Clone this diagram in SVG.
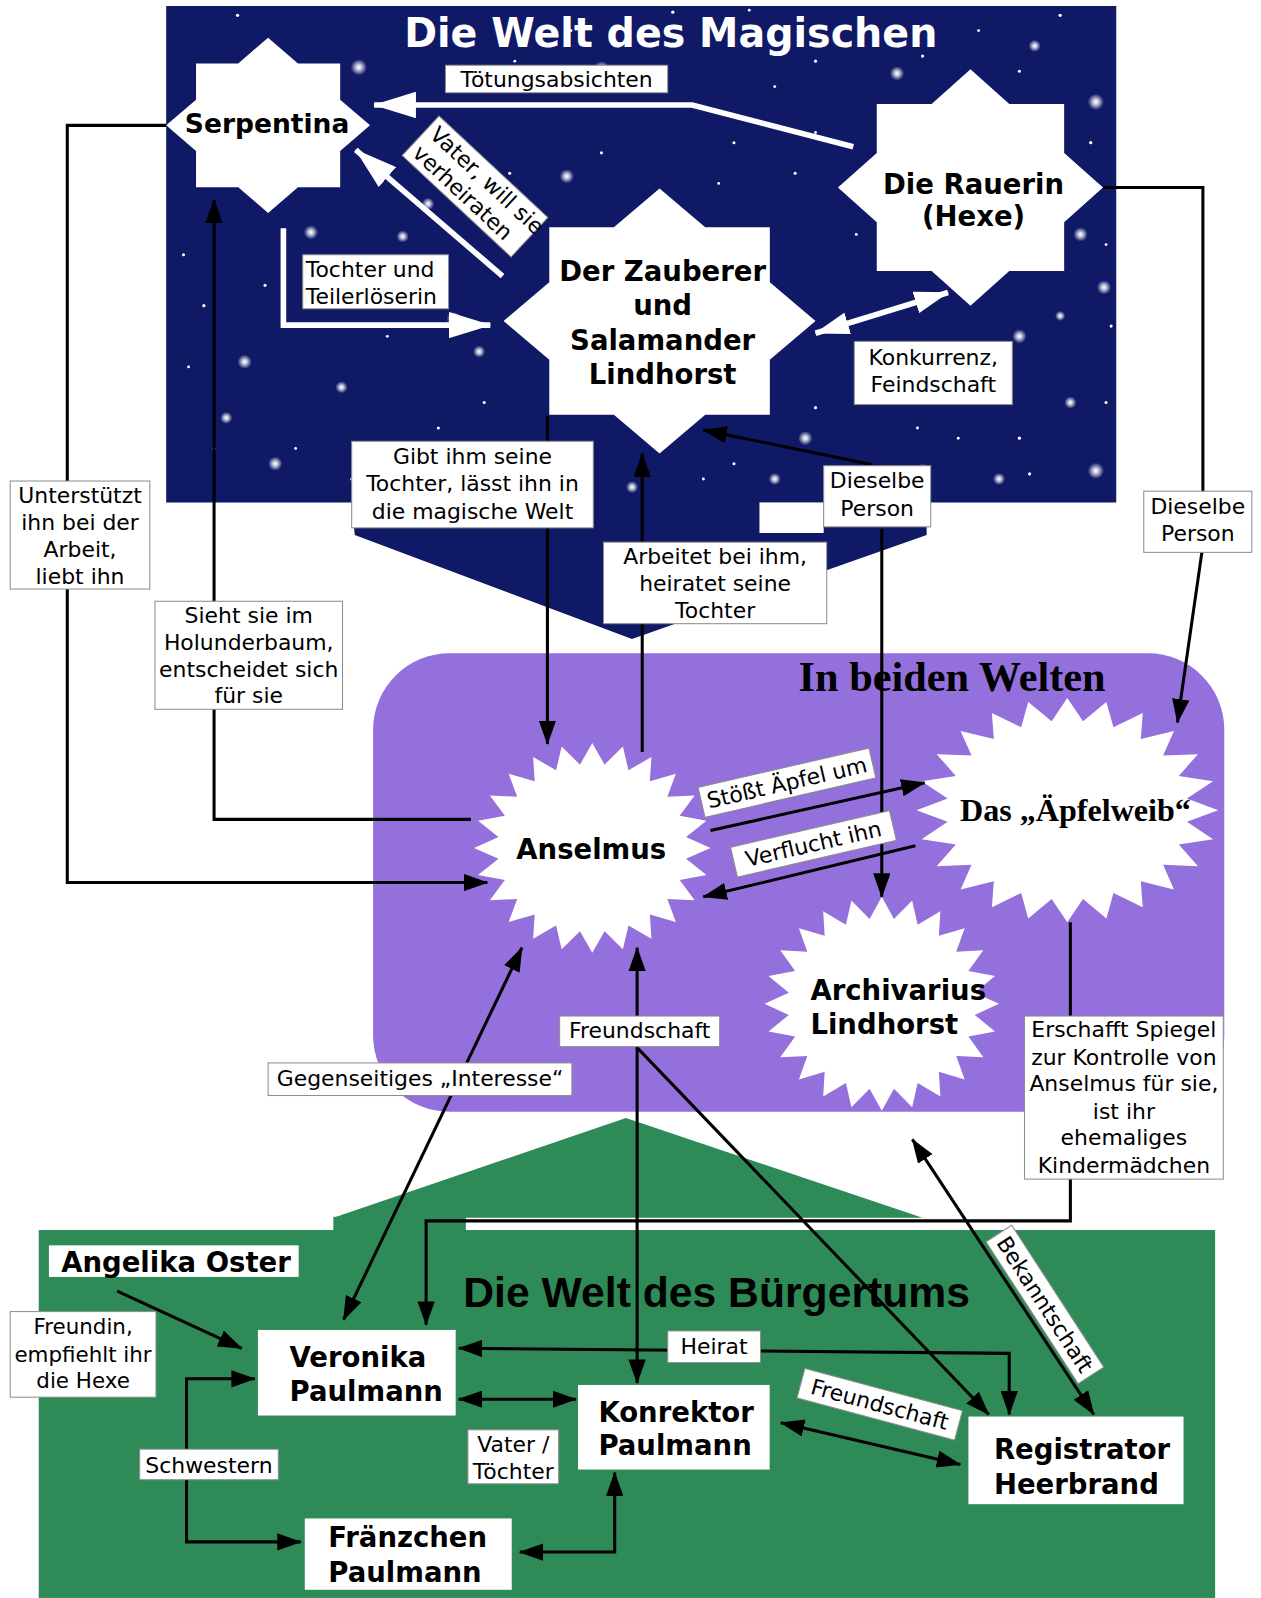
<svg xmlns="http://www.w3.org/2000/svg" width="1261" height="1598" viewBox="0 0 1261 1598">
<defs>
<style>
.lbl{font-family:"DejaVu Sans",sans-serif;font-size:21.5px;fill:#000}
.nd{font-family:"DejaVu Sans",sans-serif;font-weight:bold;font-size:27px;fill:#000}
.box{fill:#fff;stroke:#8c8c8c;stroke-width:1}
.nbox{fill:#fff}
.ln{fill:none;stroke:#000;stroke-width:3}
.wl{fill:none;stroke:#fff;stroke-width:5.5}
.c{text-anchor:middle}
.sd{fill:#fff}
</style>
<radialGradient id="glow">
<stop offset="0" stop-color="#fff" stop-opacity="1"/>
<stop offset="0.3" stop-color="#fff" stop-opacity="0.8"/>
<stop offset="1" stop-color="#fff" stop-opacity="0"/>
</radialGradient>
<polygon id="s8" points="100,0 70.7,29.3 70.7,70.7 29.3,70.7 0,100 -29.3,70.7 -70.7,70.7 -70.7,29.3 -100,0 -70.7,-29.3 -70.7,-70.7 -29.3,-70.7 0,-100 29.3,-70.7 70.7,-70.7 70.7,-29.3"/>
<polygon id="s24" points="100,0 79.3,10.4 96.6,25.9 73.9,30.6 86.6,50 63.5,48.7 70.7,70.7 48.7,63.5 50,86.6 30.6,73.9 25.9,96.6 10.4,79.3 0,100 -10.4,79.3 -25.9,96.6 -30.6,73.9 -50,86.6 -48.7,63.5 -70.7,70.7 -63.5,48.7 -86.6,50 -73.9,30.6 -96.6,25.9 -79.3,10.4 -100,0 -79.3,-10.4 -96.6,-25.9 -73.9,-30.6 -86.6,-50 -63.5,-48.7 -70.7,-70.7 -48.7,-63.5 -50,-86.6 -30.6,-73.9 -25.9,-96.6 -10.4,-79.3 0,-100 10.4,-79.3 25.9,-96.6 30.6,-73.9 50,-86.6 48.7,-63.5 70.7,-70.7 63.5,-48.7 86.6,-50 73.9,-30.6 96.6,-25.9 79.3,-10.4"/>
<marker id="ab" markerUnits="userSpaceOnUse" markerWidth="24" markerHeight="17" refX="23" refY="8.5" orient="auto-start-reverse" viewBox="0 0 24 17"><path d="M0,0 L24,8.5 L0,17 z" fill="#000"/></marker>
<marker id="aw" markerUnits="userSpaceOnUse" markerWidth="42" markerHeight="26" refX="41" refY="13" orient="auto-start-reverse" viewBox="0 0 42 26"><path d="M0,0 L42,13 L0,26 z" fill="#fff"/></marker>
<marker id="aws" markerUnits="userSpaceOnUse" markerWidth="34" markerHeight="22" refX="33" refY="11" orient="auto-start-reverse" viewBox="0 0 34 22"><path d="M0,0 L34,11 L0,22 z" fill="#fff"/></marker>
</defs>
<rect width="1261" height="1598" fill="#fff"/>
<g transform="scale(1.0194,1.0191)">
<g id="backgrounds">
<path d="M163,6 H1095 V493 H909 V525 L620,627 L348,525 L345,493 H163 Z" fill="#0f1966"/>
<rect x="745" y="493" width="63" height="30" fill="#fff"/>
<g id="starfield">
<circle cx="352" cy="66" r="8" fill="url(#glow)"/><circle cx="590" cy="68" r="8" fill="url(#glow)"/>
<circle cx="880" cy="72" r="7" fill="url(#glow)"/><circle cx="937" cy="100" r="7" fill="url(#glow)"/>
<circle cx="1075" cy="100" r="8" fill="url(#glow)"/><circle cx="1015" cy="45" r="6" fill="url(#glow)"/>
<circle cx="556" cy="173" r="7" fill="url(#glow)"/><circle cx="445" cy="313" r="7" fill="url(#glow)"/>
<circle cx="395" cy="232" r="6" fill="url(#glow)"/><circle cx="470" cy="345" r="6" fill="url(#glow)"/>
<circle cx="240" cy="355" r="7" fill="url(#glow)"/><circle cx="222" cy="410" r="6" fill="url(#glow)"/>
<circle cx="270" cy="455" r="7" fill="url(#glow)"/><circle cx="335" cy="380" r="6" fill="url(#glow)"/>
<circle cx="790" cy="430" r="7" fill="url(#glow)"/><circle cx="1000" cy="330" r="7" fill="url(#glow)"/>
<circle cx="1050" cy="395" r="6" fill="url(#glow)"/><circle cx="1075" cy="462" r="8" fill="url(#glow)"/>
<circle cx="1060" cy="230" r="7" fill="url(#glow)"/><circle cx="1083" cy="282" r="7" fill="url(#glow)"/>
<circle cx="475" cy="448" r="6" fill="url(#glow)"/><circle cx="620" cy="478" r="6" fill="url(#glow)"/>
<circle cx="905" cy="462" r="7" fill="url(#glow)"/><circle cx="760" cy="470" r="6" fill="url(#glow)"/>
<circle cx="305" cy="228" r="7" fill="url(#glow)"/><circle cx="420" cy="200" r="6" fill="url(#glow)"/>
<circle cx="980" cy="470" r="6" fill="url(#glow)"/><circle cx="1040" cy="310" r="5" fill="url(#glow)"/>
<circle cx="233" cy="15" r="1.6" class="sd"/><circle cx="420" cy="35" r="1.6" class="sd"/>
<circle cx="505" cy="60" r="1.4" class="sd"/><circle cx="660" cy="12" r="1.6" class="sd"/>
<circle cx="735" cy="10" r="1.4" class="sd"/><circle cx="1040" cy="15" r="1.6" class="sd"/>
<circle cx="800" cy="60" r="1.5" class="sd"/><circle cx="860" cy="35" r="1.4" class="sd"/>
<circle cx="1000" cy="70" r="1.5" class="sd"/><circle cx="1070" cy="140" r="1.6" class="sd"/>
<circle cx="1085" cy="240" r="1.4" class="sd"/><circle cx="1090" cy="320" r="1.5" class="sd"/>
<circle cx="1000" cy="430" r="1.6" class="sd"/><circle cx="940" cy="430" r="1.4" class="sd"/>
<circle cx="1010" cy="465" r="1.5" class="sd"/><circle cx="900" cy="420" r="1.4" class="sd"/>
<circle cx="720" cy="455" r="1.5" class="sd"/><circle cx="800" cy="400" r="1.5" class="sd"/>
<circle cx="690" cy="470" r="1.4" class="sd"/><circle cx="410" cy="300" r="1.5" class="sd"/>
<circle cx="380" cy="330" r="1.4" class="sd"/><circle cx="430" cy="420" r="1.5" class="sd"/>
<circle cx="200" cy="300" r="1.6" class="sd"/><circle cx="185" cy="360" r="1.4" class="sd"/>
<circle cx="210" cy="440" r="1.5" class="sd"/><circle cx="260" cy="280" r="1.5" class="sd"/>
<circle cx="290" cy="440" r="1.4" class="sd"/><circle cx="475" cy="395" r="1.5" class="sd"/>
<circle cx="780" cy="170" r="1.5" class="sd"/><circle cx="800" cy="130" r="1.4" class="sd"/>
<circle cx="720" cy="140" r="1.5" class="sd"/><circle cx="705" cy="180" r="1.4" class="sd"/>
<circle cx="500" cy="170" r="1.5" class="sd"/><circle cx="520" cy="230" r="1.4" class="sd"/>
<circle cx="590" cy="150" r="1.5" class="sd"/><circle cx="1060" cy="175" r="1.4" class="sd"/>
<circle cx="1085" cy="395" r="1.5" class="sd"/><circle cx="760" cy="85" r="1.4" class="sd"/>
<circle cx="560" cy="30" r="1.5" class="sd"/><circle cx="180" cy="250" r="1.5" class="sd"/>
<circle cx="905" cy="55" r="1.6" class="sd"/><circle cx="960" cy="30" r="1.4" class="sd"/>
<circle cx="840" cy="230" r="1.4" class="sd"/><circle cx="345" cy="470" r="1.5" class="sd"/>
</g>
<rect x="366" y="641" width="835" height="450" rx="75" fill="#9370db"/>
<path d="M327,1195 L614,1097 L905,1195 Z" fill="#2e8b57"/>
<rect x="327" y="1194" width="130" height="14" fill="#2e8b57"/>
<rect x="38" y="1207" width="1154" height="361" fill="#2e8b57"/>
</g>
<g id="titles">
<text x="658" y="46" font-family="DejaVu Sans, sans-serif" font-weight="bold" font-size="40" fill="#fff" text-anchor="middle" textLength="523" lengthAdjust="spacingAndGlyphs">Die Welt des Magischen</text>
<text x="934" y="678" font-family="Liberation Serif, serif" font-weight="bold" font-size="41.5" fill="#000" text-anchor="middle">In beiden Welten</text>
<text x="703" y="1283" font-family="Liberation Sans, sans-serif" font-weight="bold" font-size="42" fill="#000" text-anchor="middle" textLength="497" lengthAdjust="spacingAndGlyphs">Die Welt des Bürgertums</text>
</g>
<g id="node-serpentina">
<use href="#s8" transform="translate(263,123) scale(1.0,0.86)" fill="#fff"/>
<text class="nd c" x="262" y="131" style="font-size:26px">Serpentina</text>
</g>
<g id="node-rauerin">
<use href="#s8" transform="translate(952,184) scale(1.30,1.16)" fill="#fff"/>
<text class="nd c" x="955" y="190">Die Rauerin</text>
<text class="nd c" x="955" y="222">(Hexe)</text>
</g>
<g id="node-zauberer">
<use href="#s8" transform="translate(647,315) scale(1.53,1.30)" fill="#fff"/>
<text class="nd c" x="650" y="276">Der Zauberer</text>
<text class="nd c" x="650" y="309">und</text>
<text class="nd c" x="650" y="343">Salamander</text>
<text class="nd c" x="650" y="377">Lindhorst</text>
</g>
<g id="node-anselmus">
<use href="#s24" transform="translate(581,832) scale(1.16,1.03)" fill="#fff"/>
<text class="nd c" x="580" y="843">Anselmus</text>
</g>
<g id="node-aepfelweib">
<use href="#s24" transform="translate(1047,795) scale(1.48,1.10)" fill="#fff"/>
<text x="1055" y="806" font-family="Liberation Serif, serif" font-weight="bold" font-size="31.5" text-anchor="middle">Das „Äpfelweib“</text>
</g>
<g id="node-archivarius">
<use href="#s24" transform="translate(865,985) scale(1.15,1.05)" fill="#fff"/>
<text class="nd" x="795" y="981">Archivarius</text>
<text class="nd" x="795" y="1015">Lindhorst</text>
</g>
<g id="node-angelika">
<rect class="nbox" x="48" y="1222" width="245" height="31"/>
<text class="nd" x="60" y="1248">Angelika Oster</text>
</g>
<g id="node-veronika">
<rect class="nbox" x="253" y="1305" width="194" height="84"/>
<text class="nd" x="284" y="1341">Veronika</text>
<text class="nd" x="284" y="1375">Paulmann</text>
</g>
<g id="node-konrektor">
<rect class="nbox" x="567" y="1359" width="188" height="83"/>
<text class="nd" x="587" y="1395">Konrektor</text>
<text class="nd" x="587" y="1428">Paulmann</text>
</g>
<g id="node-registrator">
<rect class="nbox" x="950" y="1390" width="211" height="86"/>
<text class="nd" x="975" y="1432">Registrator</text>
<text class="nd" x="975" y="1466">Heerbrand</text>
</g>
<g id="node-fraenzchen">
<rect class="nbox" x="299" y="1490" width="203" height="70"/>
<text class="nd" x="322" y="1518">Fränzchen</text>
<text class="nd" x="322" y="1552">Paulmann</text>
</g>
<g id="connectors">
<path class="wl" d="M837,144 L679,103 L367,103" marker-end="url(#aw)"/>
<path class="wl" d="M493,271 L349,147" marker-end="url(#aw)"/>
<path class="wl" d="M278,224 V319 H481" marker-end="url(#aw)"/>
<path class="wl" d="M800,327 L930,287" marker-start="url(#aws)" marker-end="url(#aws)"/>
<path class="ln" d="M163,123 H66 V866 H478" marker-end="url(#ab)"/>
<path class="ln" d="M462,804 H210 V196" marker-end="url(#ab)"/>
<path class="ln" d="M537,408 V730" marker-end="url(#ab)"/>
<path class="ln" d="M630,738 V445" marker-end="url(#ab)"/>
<path class="ln" d="M856,456 L690,422" marker-end="url(#ab)"/>
<path class="ln" d="M865,519 V880" marker-end="url(#ab)"/>
<path class="ln" d="M1082,184 H1180 V482"/>
<path class="ln" d="M1179,542 L1155,709" marker-end="url(#ab)"/>
<path class="ln" d="M697,815 L907,768" marker-end="url(#ab)"/>
<path class="ln" d="M898,830 L690,880" marker-end="url(#ab)"/>
<path class="ln" d="M1050,905 V997"/>
<path class="ln" d="M1050,1157 V1198 H418 V1300" marker-end="url(#ab)"/>
<path class="ln" d="M625,1357 V930" marker-start="url(#ab)" marker-end="url(#ab)"/>
<path class="ln" d="M625,1028 L970,1388" marker-end="url(#ab)"/>
<path class="ln" d="M512,930 L337,1295" marker-start="url(#ab)" marker-end="url(#ab)"/>
<path class="ln" d="M895,1118 L1073,1388" marker-start="url(#ab)" marker-end="url(#ab)"/>
<path class="ln" d="M115,1267 L237,1323" marker-end="url(#ab)"/>
<path class="ln" d="M450,1323 L990,1328 V1388" marker-start="url(#ab)" marker-end="url(#ab)"/>
<path class="ln" d="M450,1373 H565" marker-start="url(#ab)" marker-end="url(#ab)"/>
<path class="ln" d="M250,1353 H183 V1513 H295" marker-start="url(#ab)" marker-end="url(#ab)"/>
<path class="ln" d="M510,1523 H603 V1445" marker-start="url(#ab)" marker-end="url(#ab)"/>
<path class="ln" d="M766,1396 L942,1437" marker-start="url(#ab)" marker-end="url(#ab)"/>
</g>
<g id="edge-labels">
<rect class="box" x="437" y="64" width="218" height="27"/>
<text class="lbl c" x="546" y="85">Tötungsabsichten</text>
<g transform="translate(466,183) rotate(43)">
<rect class="box" x="-73" y="-26.5" width="146" height="53"/>
<text class="lbl" x="-67" y="-5">Vater, will sie</text>
<text class="lbl" x="-67" y="20">verheiraten</text>
</g>
<rect class="box" x="297" y="250" width="143" height="53"/>
<text class="lbl" x="300" y="272">Tochter und</text>
<text class="lbl" x="300" y="298">Teilerlöserin</text>
<rect class="box" x="838" y="335" width="155" height="62"/>
<text class="lbl c" x="915.5" y="358">Konkurrenz,</text>
<text class="lbl c" x="915.5" y="385">Feindschaft</text>
<rect class="box" x="808" y="457" width="105" height="60"/>
<text class="lbl c" x="860.5" y="479">Dieselbe</text>
<text class="lbl c" x="860.5" y="506">Person</text>
<rect class="box" x="345" y="433" width="237" height="85"/>
<text class="lbl c" x="463.5" y="455">Gibt ihm seine</text>
<text class="lbl c" x="463.5" y="482">Tochter, lässt ihn in</text>
<text class="lbl c" x="463.5" y="509">die magische Welt</text>
<rect class="box" x="592" y="532" width="219" height="80"/>
<text class="lbl c" x="701.5" y="553">Arbeitet bei ihm,</text>
<text class="lbl c" x="701.5" y="580">heiratet seine</text>
<text class="lbl c" x="701.5" y="606">Tochter</text>
<rect class="box" x="10" y="472" width="137" height="106"/>
<text class="lbl c" x="78.5" y="494">Unterstützt</text>
<text class="lbl c" x="78.5" y="520">ihn bei der</text>
<text class="lbl c" x="78.5" y="547">Arbeit,</text>
<text class="lbl c" x="78.5" y="573">liebt ihn</text>
<rect class="box" x="152" y="590" width="184" height="106"/>
<text class="lbl c" x="244" y="611">Sieht sie im</text>
<text class="lbl c" x="244" y="638">Holunderbaum,</text>
<text class="lbl c" x="244" y="664">entscheidet sich</text>
<text class="lbl c" x="244" y="690">für sie</text>
<rect class="box" x="1122" y="482" width="106" height="60"/>
<text class="lbl c" x="1175" y="504">Dieselbe</text>
<text class="lbl c" x="1175" y="531">Person</text>
<g transform="translate(772,768) rotate(-13)">
<rect class="box" x="-86" y="-15" width="172" height="30"/>
<text class="lbl c" x="0" y="7.5">Stößt Äpfel um</text>
</g>
<g transform="translate(798,828) rotate(-13)">
<rect class="box" x="-80" y="-15" width="160" height="30"/>
<text class="lbl c" x="0" y="7.5">Verflucht ihn</text>
</g>
<rect class="box" x="549" y="997" width="157" height="30"/>
<text class="lbl c" x="627.5" y="1019">Freundschaft</text>
<rect class="box" x="263" y="1043" width="298" height="32"/>
<text class="lbl c" x="412" y="1066">Gegenseitiges „Interesse“</text>
<rect class="box" x="1005" y="997" width="195" height="160"/>
<text class="lbl c" x="1102.5" y="1018">Erschafft Spiegel</text>
<text class="lbl c" x="1102.5" y="1045">zur Kontrolle von</text>
<text class="lbl c" x="1102.5" y="1071">Anselmus für sie,</text>
<text class="lbl c" x="1102.5" y="1098">ist ihr</text>
<text class="lbl c" x="1102.5" y="1124">ehemaliges</text>
<text class="lbl c" x="1102.5" y="1151">Kindermädchen</text>
<g transform="translate(1025,1280) rotate(57)">
<rect class="box" x="-83" y="-15" width="166" height="30"/>
<text class="lbl c" x="0" y="7.5">Bekanntschaft</text>
</g>
<rect class="box" x="10" y="1287" width="143" height="84"/>
<text class="lbl c" x="81.5" y="1309" style="font-size:21px">Freundin,</text>
<text class="lbl c" x="81.5" y="1336" style="font-size:21px">empfiehlt ihr</text>
<text class="lbl c" x="81.5" y="1362" style="font-size:21px">die Hexe</text>
<rect class="box" x="655" y="1306" width="91" height="31"/>
<text class="lbl c" x="700.5" y="1329">Heirat</text>
<rect class="box" x="459" y="1403" width="89" height="53"/>
<text class="lbl c" x="503.5" y="1425">Vater /</text>
<text class="lbl c" x="503.5" y="1451">Töchter</text>
<rect class="box" x="137" y="1422" width="136" height="30"/>
<text class="lbl c" x="205" y="1445">Schwestern</text>
<g transform="translate(863,1378) rotate(15)">
<rect class="box" x="-80" y="-15" width="160" height="30"/>
<text class="lbl c" x="0" y="7.5">Freundschaft</text>
</g>
</g>
</g>
</svg>
